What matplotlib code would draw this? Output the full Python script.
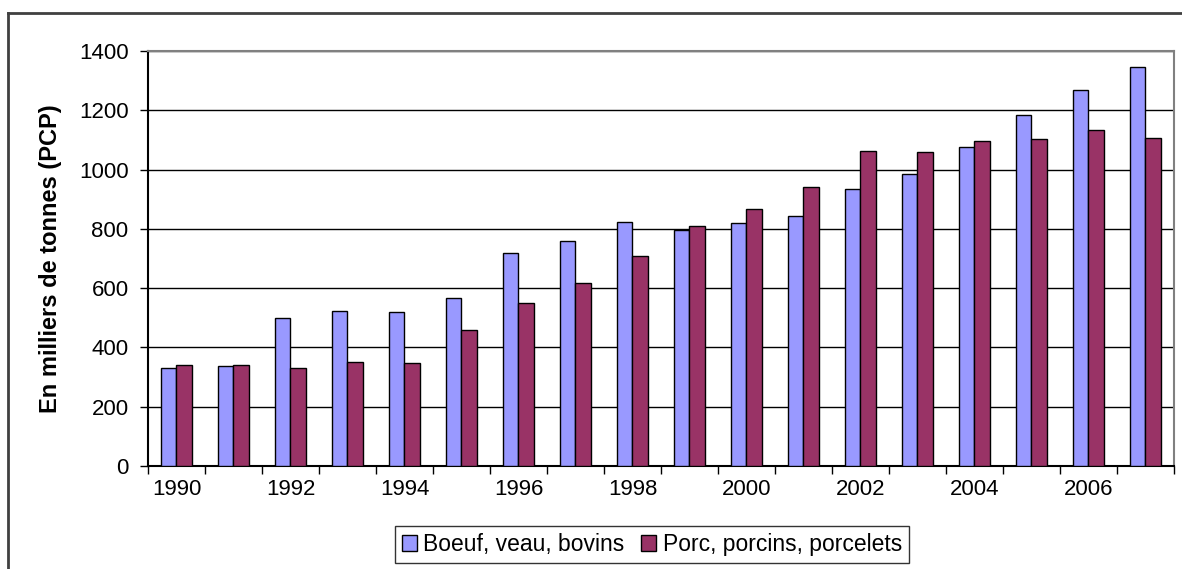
import numpy as np
import matplotlib.pyplot as plt
from matplotlib.lines import Line2D

plt.rcParams['font.family'] = ['Liberation Sans', 'DejaVu Sans']

years = list(range(1990, 2008))
boeuf = [330, 336, 498, 523, 521, 566, 719, 759, 822, 797,
         820, 844, 935, 984, 1077, 1185, 1269, 1347]
porc = [341, 340, 329, 350, 348, 458, 550, 617, 707, 810,
        867, 942, 1062, 1059, 1097, 1102, 1135, 1107]
labels = ['Boeuf, veau, bovins', 'Porc, porcins, porcelets']
colors = ['#9999FF', '#993366']

fig = plt.figure(figsize=(11.82, 5.69), dpi=100)
ax = fig.add_axes([0.1252, 0.181, 0.8680, 0.7294])

x = np.arange(len(years))
w = 0.28
ax.bar(x - w / 2, boeuf, w, color=colors[0], edgecolor='black', linewidth=1, label=labels[0], zorder=3)
ax.bar(x + w / 2, porc, w, color=colors[1], edgecolor='black', linewidth=1, label=labels[1], zorder=3)

ax.set_xlim(-0.5, len(years) - 0.5)
ax.set_ylim(0, 1400)
ax.set_yticks(range(0, 1401, 200))
ax.yaxis.grid(True, color='black', linewidth=1)
ax.set_axisbelow(True)

# year labels every other category, ticks on category boundaries
ax.set_xticks(x[::2])
ax.set_xticklabels([str(y) for y in years[::2]])
ax.set_xticks(np.arange(-0.5, len(years)), minor=True)
ax.tick_params(axis='x', which='major', length=0, pad=9, labelsize=16)
ax.tick_params(axis='x', which='minor', length=6, width=1, direction='out')
ax.tick_params(axis='y', length=6, width=1, direction='out', pad=8, labelsize=16)

for side in ['top', 'right']:
    ax.spines[side].set_color('#808080')
    ax.spines[side].set_linewidth(1.5)
for side in ['left', 'bottom']:
    ax.spines[side].set_color('black')
    ax.spines[side].set_linewidth(1.5)

ax.set_ylabel('En milliers de tonnes (PCP)', fontsize=17, fontweight='bold', labelpad=12)

leg = ax.legend(loc='upper center', bbox_to_anchor=(0.491, -0.145), ncol=2, frameon=True,
                fancybox=False, shadow=False, fontsize=16.5, handlelength=0.65, handleheight=0.65,
                handletextpad=0.3, columnspacing=0.7, borderpad=0.3, borderaxespad=0)
leg.get_frame().set_edgecolor('black')
leg.get_frame().set_linewidth(1)

# outer frame of the chart area
fig.add_artist(Line2D([7.5 / 1182, 1], [1 - 12.5 / 569, 1 - 12.5 / 569], color='#404040', linewidth=2))
fig.add_artist(Line2D([7.5 / 1182, 7.5 / 1182], [0, 1 - 12.5 / 569], color='#404040', linewidth=2))

fig.savefig('out.png', dpi=100)
